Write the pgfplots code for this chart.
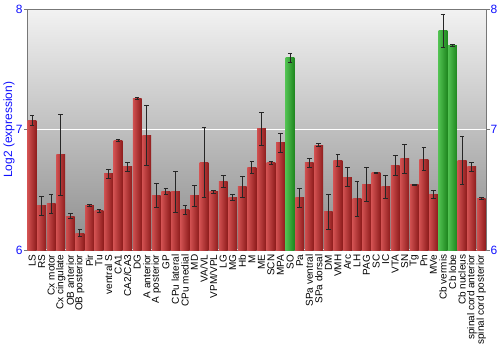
\documentclass[border=0pt]{standalone}
\usepackage{pgfplots}
\pgfplotsset{compat=1.18}
\usepackage{pgfplotstable}
\usepackage{fontspec}
\setmainfont{Liberation Sans}
\definecolor{bgtop}{HTML}{F2F2F2}
\definecolor{bgbot}{HTML}{8C8C8C}
\definecolor{redL}{HTML}{D05050}
\definecolor{redR}{HTML}{8E1C1C}
\definecolor{grnL}{HTML}{50C050}
\definecolor{grnR}{HTML}{1E861E}
\definecolor{axgray}{HTML}{777777}
\definecolor{lblue}{HTML}{1010FF}

\pgfplotstableread{
x y e
0 7.075 0.043
1 6.367 0.08
2 6.383 0.08
3 6.79 0.335
4 6.28 0.02
5 6.14 0.03
6 6.37 0.01
7 6.325 0.015
8 6.633 0.04
9 6.91 0.01
10 6.69 0.04
11 7.26 0.005
12 6.95 0.25
13 6.455 0.1
14 6.49 0.025
15 6.483 0.17
16 6.333 0.035
17 6.45 0.085
18 6.725 0.29
19 6.483 0.01
20 6.567 0.05
21 6.44 0.025
22 6.525 0.085
23 6.683 0.05
24 7.008 0.139
25 6.725 0.015
26 6.89 0.08
28 6.433 0.075
29 6.725 0.04
30 6.872 0.015
31 6.317 0.145
32 6.742 0.05
33 6.605 0.08
34 6.428 0.145
35 6.547 0.14
36 6.642 0.005
37 6.525 0.095
38 6.703 0.08
39 6.76 0.12
40 6.542 0.007
41 6.755 0.095
42 6.464 0.035
45 6.742 0.2
46 6.692 0.04
47 6.428 0.005
}\reddata

\pgfplotstableread{
x y e
27 7.597 0.04
43 7.82 0.135
44 7.70 0.01
}\grndata

\pgfplotsset{
  mybar/.style={ybar, draw=none,
    error bars/y dir=both, error bars/y explicit,
    error bars/error bar style={black!85, line width=0.8bp},
    error bars/error mark options={rotate=90, mark size=2.3bp, line width=0.8bp, black!85}},
}

\begin{document}
\begin{tikzpicture}
\path[use as bounding box] (-27.3bp,-100bp) rectangle (472.7bp,250bp);
\begin{axis}[
  at={(0,0)}, anchor=south west,
  scale only axis, width=458.7bp, height=240.7bp,
  xmin=-0.5, xmax=47.5, ymin=6, ymax=8,
  axis background/.style={top color=bgtop, bottom color=bgbot},
  axis line style={axgray, line width=0.8bp},
  ytick={6,7,8}, ytick pos=left,
  tick align=outside, major tick length=3.5bp,
  ytick style={axgray, line width=0.8bp},
  yticklabel style={text=lblue, font=\fontsize{12bp}{12bp}\selectfont, inner sep=1bp},
  /pgf/number format/assume math mode=true,
  ymajorgrids, grid style={white, line width=1.2bp},
  xtick={0,...,47}, xtick style={draw=none},
  xticklabels={LS,RS,Cx motor,Cx cingulate,OB anterior,OB posterior,Pir,Tu,ventral S,CA1,CA2/CA3,DG,A anterior,A posterior,GP,CPu lateral,CPu medial,MD,VA/VL,VPM/VPL,LG,MG,Hb,M,ME,SCN,MPA,SO,Pa,SPa ventral,SPa dorsal,DM,VMH,Arc,LH,PAG,SC,IC,VTA,SN,Tg,Pn,MVe,Cb vermis,Cb lobe,Cb nucleus,spinal cord anterior,spinal cord posterior},
  xticklabel style={rotate=90, anchor=east, font=\fontsize{10bp}{10bp}\selectfont, inner sep=1bp},
  bar width=0.92, bar shift=0pt,
]
\pgfplotsinvokeforeach{0,...,26,28,29,...,42,45,46,47}{
  \addplot[mybar, left color=redL, right color=redR,
    x filter/.expression={abs(x-#1)<0.1 ? x : nan}]
    table[x=x, y=y, y error=e] {\reddata};
}
\pgfplotsinvokeforeach{27,43,44}{
  \addplot[mybar, left color=grnL, right color=grnR,
    x filter/.expression={abs(x-#1)<0.1 ? x : nan}]
    table[x=x, y=y, y error=e] {\grndata};
}
\end{axis}
\begin{axis}[
  at={(0,0)}, anchor=south west,
  scale only axis, width=458.7bp, height=240.7bp,
  xmin=-0.5, xmax=47.5, ymin=6, ymax=8,
  axis x line=none, axis y line*=right,
  axis line style={axgray, line width=0.8bp, -},
  ytick={6,7,8},
  tick align=outside, major tick length=3.5bp,
  ytick style={axgray, line width=0.8bp},
  yticklabel style={text=lblue, font=\fontsize{12bp}{12bp}\selectfont, inner sep=1bp},
  /pgf/number format/assume math mode=true,
]
\end{axis}
\node[rotate=90, text=lblue, font=\fontsize{12bp}{12bp}\selectfont] at (-18.3bp,120.3bp) {Log2 (expression)};
\end{tikzpicture}
\end{document}
